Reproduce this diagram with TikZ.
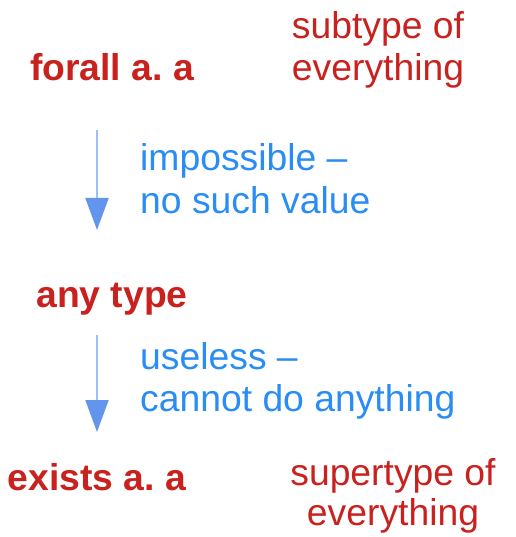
\documentclass[tikz,border=0pt]{standalone}
\usepackage{fontspec}
\setmainfont{Liberation Sans}
\frenchspacing
\usetikzlibrary{arrows.meta}
\definecolor{tred}{HTML}{C9211E}
\definecolor{tblue}{HTML}{2A8CF5}
\definecolor{shaftblue}{HTML}{9EBFF5}
\definecolor{headblue}{HTML}{6495ED}
\tikzset{
  lbl/.style={font=\fontsize{37.3}{42}\selectfont, inner sep=0pt, anchor=base},
  typ/.style={lbl, text=tred, font=\fontsize{37.3}{42}\selectfont\bfseries},
  note/.style={lbl, text=tred},
  expl/.style={lbl, text=tblue, anchor=base west},
  sub/.style={draw=shaftblue, line width=2pt, -{Triangle[length=32pt,width=23pt,color=headblue]}}
}
\begin{document}
\begin{tikzpicture}[x=1pt,y=-1pt]
\useasboundingbox (0,0) rectangle (515,537);
\node[typ] (fa) at (112,81) {forall a. a};
\node[note] (st1) at (378,39) {subtype of};
\node[note] (st2) at (378,81) {everything};
\node[typ] (any) at (112,307) {any type};
\node[typ] (ex) at (97,490) {exists a. a};
\node[note] (sp1) at (393,485) {supertype of};
\node[note] (sp2) at (393,525) {everything};
\node[expl] (e1) at (140,171) {impossible –};
\node[expl] (e2) at (140,213) {no such value};
\node[expl] (e3) at (140,369) {useless –};
\node[expl] (e4) at (140,411) {cannot do anything};
\coordinate (a1s) at (97,130);
\coordinate (a1e) at (97,230);
\coordinate (a2s) at (97,335);
\coordinate (a2e) at (97,432);
\draw[sub] (a1s) -- (a1e);
\draw[sub] (a2s) -- (a2e);
\end{tikzpicture}
\end{document}
